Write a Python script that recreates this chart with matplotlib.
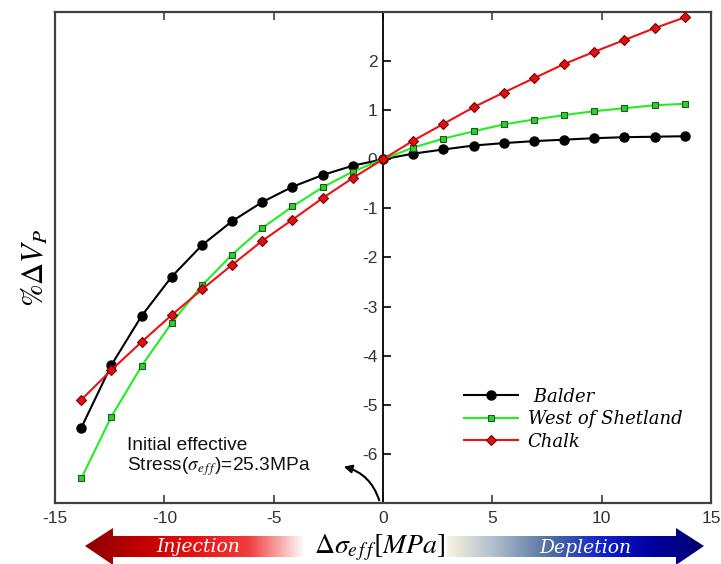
import numpy as np
import matplotlib
matplotlib.use("Agg")
import matplotlib.pyplot as plt
from matplotlib.patches import Polygon
from matplotlib.colors import LinearSegmentedColormap

# ---- data ----
d_sigma = [-13.8, -12.42, -11.04, -9.66, -8.28, -6.9, -5.52, -4.14, -2.76, -1.38, 0.0,
           1.38, 2.76, 4.14, 5.52, 6.9, 8.28, 9.66, 11.04, 12.42, 13.8]
balder = [-5.47, -4.19, -3.19, -2.39, -1.75, -1.26, -0.87, -0.56, -0.32, -0.13, 0.0,
          0.115, 0.20, 0.28, 0.33, 0.37, 0.40, 0.43, 0.45, 0.46, 0.47]
west_of_shetland = [-6.50, -5.24, -4.21, -3.33, -2.57, -1.94, -1.40, -0.96, -0.57, -0.25, 0.0,
                    0.24, 0.42, 0.57, 0.71, 0.81, 0.90, 0.98, 1.04, 1.10, 1.13]
chalk = [-4.90, -4.29, -3.72, -3.17, -2.65, -2.15, -1.66, -1.23, -0.79, -0.38, 0.0,
         0.38, 0.72, 1.06, 1.36, 1.65, 1.94, 2.19, 2.43, 2.67, 2.89]
series_names = [" Balder", "West of Shetland", "Chalk"]
x_ticks = [-15, -10, -5, 0, 5, 10, 15]
y_ticks = [-6, -5, -4, -3, -2, -1, 0, 1, 2]

W, H = 721, 564
fig = plt.figure(figsize=(W / 100, H / 100), dpi=100)
ax = fig.add_axes([55 / W, 1 - 503 / H, (711 - 55) / W, (503 - 12) / H])

spine_col = "#404040"
ax.plot(d_sigma, balder, color="black", lw=1.5, marker="o", ms=6.5,
        mfc="black", mec="black", label=series_names[0], zorder=3)
ax.plot(d_sigma, west_of_shetland, color="#22ee22", lw=1.5, marker="s", ms=5,
        mfc="#33cc33", mec="#1a5c1a", mew=0.8, label=series_names[1], zorder=4)
ax.plot(d_sigma, chalk, color="#ee1111", lw=1.5, marker="D", ms=5.5,
        mfc="#dd1111", mec="#7a0000", mew=0.8, label=series_names[2], zorder=5)

ax.set_xlim(-15, 15)
ax.set_ylim(-7, 3)

# y axis through origin
ax.spines["left"].set_position(("data", 0))
ax.spines["left"].set_color("black")
ax.spines["left"].set_linewidth(1.3)
for s in ["top", "bottom", "right"]:
    ax.spines[s].set_color(spine_col)
    ax.spines[s].set_linewidth(1.6)
ax.plot([0, 0], [0, 1], transform=ax.transAxes, color=spine_col, lw=1.6,
        clip_on=False, zorder=6)

ax.set_xticks(x_ticks)
ax.set_xticklabels([str(t) for t in x_ticks])
ax.set_yticks(y_ticks)
ax.set_yticklabels([str(t) for t in y_ticks])
ax.tick_params(axis="x", direction="in", top=True, bottom=True, length=6,
               width=1.2, color=spine_col, labelsize=12.5, labelcolor="#333333", pad=6)
ax.tick_params(axis="y", direction="in", left=True, right=False, length=6,
               width=1.2, color="black", labelsize=12.5, labelcolor="#333333", pad=4)
for lab in ax.get_xticklabels() + ax.get_yticklabels():
    lab.set_fontfamily("Liberation Sans")

leg = ax.legend(loc="upper left", bbox_to_anchor=(0.598, 0.268), frameon=False,
                handlelength=3.0, handletextpad=0.55, labelspacing=0.25,
                prop={"family": "DejaVu Serif", "style": "italic", "size": 13})

# overlay in pixel coordinates
ov = fig.add_axes([0, 0, 1, 1], zorder=10)
ov.axis("off")


def grad_arrow(pts, x0, x1, y0, y1, cmap):
    poly = Polygon(pts, closed=True, facecolor="none", edgecolor="none")
    ov.add_patch(poly)
    g = np.linspace(0, 1, 256).reshape(1, -1)
    im = ov.imshow(g, extent=[x0, x1, y1, y0], cmap=cmap, aspect="auto",
                   interpolation="bilinear", zorder=1)
    im.set_clip_path(poly)


inj_cmap = LinearSegmentedColormap.from_list(
    "inj", ["#8b0000", "#c00000", "#e81010", "#f04040", "#ffffff"])
dep_cmap = LinearSegmentedColormap.from_list(
    "dep", ["#faf3e0", "#a8b8c8", "#5070a0", "#1020d0", "#0000a0", "#000070"])

grad_arrow([(85, 546), (113, 528), (113, 536), (305, 536), (305, 557), (113, 557),
            (113, 565)], 85, 305, 525, 566, inj_cmap)
grad_arrow([(447, 536), (676, 536), (676, 528), (704, 546), (676, 565), (676, 557),
            (447, 557)], 447, 704, 525, 566, dep_cmap)

ov.text(35, 268, r"$\%\Delta V_P$", rotation=90, ha="center", va="center",
        fontsize=22, math_fontfamily="stix", zorder=5)
ov.text(380, 548, r"$\Delta\sigma_{e\,f\,f}[MPa]$", ha="center", va="center",
        fontsize=20, math_fontfamily="stix", zorder=5)

ov.text(127, 445, "Initial effective", ha="left", va="center", fontsize=13.8,
        family="Liberation Sans", color="#111111", zorder=5)
ov.text(127, 467, "Stress($\\sigma_{e\\,f\\,f}$)=25.3MPa", ha="left",
        va="center", fontsize=13.8, family="Liberation Sans", math_fontfamily="stix",
        color="#111111", zorder=5)
ov.annotate("", xy=(341, 466), xytext=(380, 503),
            arrowprops=dict(arrowstyle="-|>", color="black", lw=1.5,
                            connectionstyle="arc3,rad=0.3", mutation_scale=12))

ov.text(198, 547, "Injection", ha="center", va="center", color="white",
        fontsize=13.5, family="DejaVu Serif", style="italic", zorder=5)
ov.text(585, 548, "Depletion", ha="center", va="center", color="white",
        fontsize=13.5, family="DejaVu Serif", style="italic", zorder=5)

ov.set_xlim(0, W)
ov.set_ylim(H, 0)

fig.savefig("out.png", dpi=100)
